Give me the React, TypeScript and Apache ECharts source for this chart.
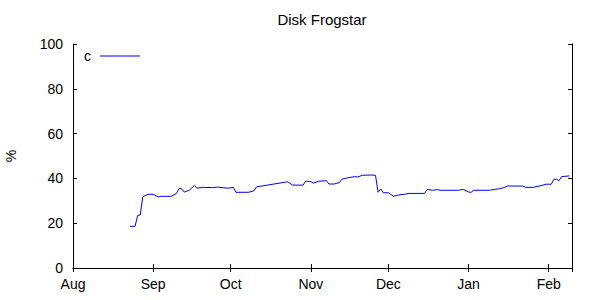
import React, { useEffect, useRef } from "react";
import * as echarts from "echarts";

const title = "Disk Frogstar";
const seriesName = "c";
const yAxisName = "%";
const monthLabels = ["Jan", "Feb", "Mar", "Apr", "May", "Jun", "Jul", "Aug", "Sep", "Oct", "Nov", "Dec"];
const xMin = "2012-08-01";
const xMax = "2013-02-10";
const yTicks = [0, 20, 40, 60, 80, 100];

const dates = [
  "2012-08-23", "2012-08-25", "2012-08-26", "2012-08-27", "2012-08-28", "2012-08-30",
  "2012-09-01", "2012-09-03", "2012-09-04", "2012-09-08", "2012-09-10", "2012-09-11",
  "2012-09-12", "2012-09-13", "2012-09-15", "2012-09-17", "2012-09-18", "2012-09-20",
  "2012-09-24", "2012-09-26", "2012-09-30", "2012-10-02", "2012-10-03", "2012-10-08",
  "2012-10-10", "2012-10-11", "2012-10-23", "2012-10-25", "2012-10-29", "2012-10-30",
  "2012-11-01", "2012-11-02", "2012-11-04", "2012-11-07", "2012-11-08", "2012-11-10",
  "2012-11-12", "2012-11-13", "2012-11-15", "2012-11-18", "2012-11-19", "2012-11-21",
  "2012-11-24", "2012-11-26", "2012-11-27", "2012-11-28", "2012-11-29", "2012-12-01",
  "2012-12-03", "2012-12-05", "2012-12-07", "2012-12-09", "2012-12-15", "2012-12-16",
  "2012-12-18", "2012-12-20", "2012-12-21", "2012-12-28", "2012-12-30", "2013-01-01",
  "2013-01-02", "2013-01-03", "2013-01-09", "2013-01-13", "2013-01-15", "2013-01-16",
  "2013-01-22", "2013-01-23", "2013-01-26", "2013-01-29", "2013-01-31", "2013-02-02",
  "2013-02-03", "2013-02-04", "2013-02-05", "2013-02-06", "2013-02-09",
];

const values = [
  18.6, 18.6, 23.4, 23.7, 31.8, 32.9,
  32.9, 31.7, 32, 32, 33.3, 35.4,
  35.4, 33.9, 34.7, 36.9, 35.6, 36,
  35.9, 36.1, 35.6, 36, 33.8, 33.8,
  34.5, 36.2, 38.5, 37, 37, 38.8,
  38.5, 37.9, 38.7, 39, 37.5, 37.5,
  38.1, 39.6, 40.2, 40.8, 40.6, 41.4,
  41.5, 41.4, 33.8, 35.3, 33.6, 33.6,
  32, 32.6, 32.9, 33.3, 33.3, 35.1,
  34.7, 35, 34.7, 34.7, 35.1, 33.9,
  33.8, 34.7, 34.7, 35.4, 36, 36.6,
  36.6, 36, 36, 36.8, 37.4, 37.4,
  39.6, 39.6, 39, 40.8, 41.1,
];

const FONT = "Liberation Sans";

export default function App() {
  const ref = useRef<HTMLDivElement>(null);
  useEffect(() => {
    if (!ref.current) return;
    const chart = echarts.init(ref.current, null, { renderer: "svg" });
    const DAY = 86400000;
    const axisLine = { show: true, lineStyle: { color: "#000", width: 1 } };
    const axisTick = { show: true, inside: true, length: 4, lineStyle: { color: "#000", width: 1 } };
    const timeAxisBase = {
      type: "time" as const,
      min: xMin,
      max: xMax,
      minInterval: 28 * DAY,
      maxInterval: 31 * DAY,
      axisLine,
      axisTick,
      splitLine: { show: false },
    };
    const yBase = {
      type: "value" as const,
      min: yTicks[0],
      max: yTicks[yTicks.length - 1],
      interval: yTicks[1] - yTicks[0],
      axisLine,
      axisTick,
      splitLine: { show: false },
    };
    chart.setOption({
      animation: false,
      backgroundColor: "#fff",
      title: {
        text: title,
        left: 322,
        textAlign: "center",
        top: 12,
        padding: 0,
        textStyle: { fontFamily: FONT, fontSize: 15, fontWeight: "normal", color: "#000" },
      },
      legend: {
        left: 84,
        top: 49,
        padding: 0,
        align: "right",
        icon: "rect",
        itemWidth: 40,
        itemHeight: 1,
        data: [seriesName],
        formatter: (name: string) => name + " ",
        textStyle: { fontFamily: FONT, fontSize: 14, color: "#000" },
      },
      grid: { left: 73, right: 28, top: 44, bottom: 32, containLabel: false, outerBoundsMode: "none" },
      xAxis: [
        {
          ...timeAxisBase,
          position: "bottom",
          axisLabel: {
            show: true,
            margin: 9,
            fontFamily: FONT,
            fontSize: 14,
            color: "#000",
            showMinLabel: true,
            alignMinLabel: "center",
            alignMaxLabel: "center",
            formatter: (v: number) => monthLabels[new Date(v).getMonth()],
          },
        },
        { ...timeAxisBase, position: "top", axisLabel: { show: false } },
      ],
      yAxis: [
        {
          ...yBase,
          position: "left",
          name: yAxisName,
          nameLocation: "middle",
          nameRotate: 90,
          nameGap: 55,
          nameTextStyle: { fontFamily: FONT, fontSize: 14, color: "#000" },
          axisLabel: { show: true, margin: 10, fontFamily: FONT, fontSize: 14, color: "#000" },
        },
        { ...yBase, position: "right", axisLabel: { show: false } },
      ],
      series: [
        {
          name: seriesName,
          type: "line",
          data: dates.map((d, i) => [d, values[i]]),
          showSymbol: false,
          symbol: "none",
          lineStyle: { color: "#0000ff", width: 1 },
          itemStyle: { color: "#0000ff" },
          xAxisIndex: 0,
          yAxisIndex: 0,
        },
      ],
    });
    return () => chart.dispose();
  }, []);
  return <div ref={ref} style={{ width: 600, height: 300, position: "absolute", left: 0, top: 0 }} />;
}
